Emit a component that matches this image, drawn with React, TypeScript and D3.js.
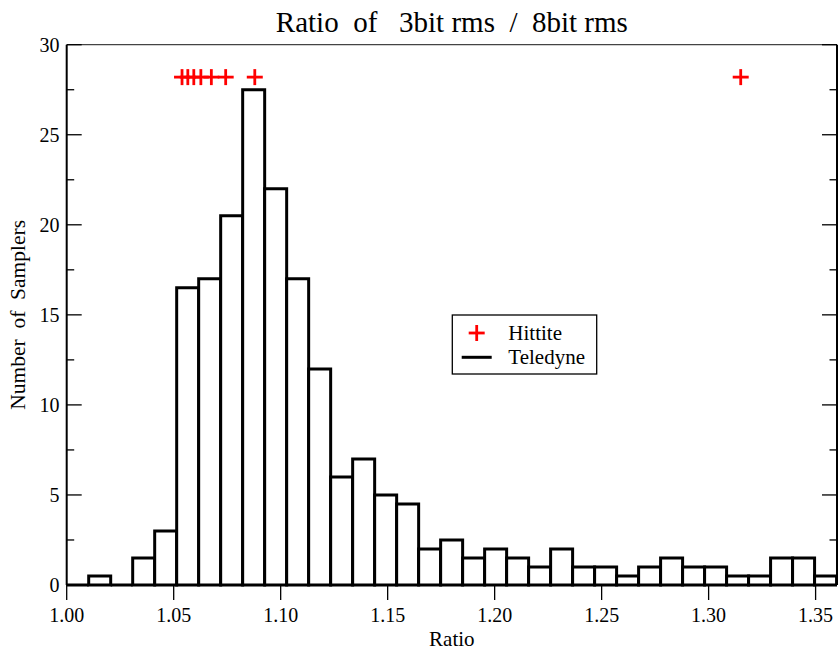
import React from "react";
import * as d3 from "d3";

const binStart = 1.0;
const binWidth = 0.01028;
const teledyneCounts = [
  0, 0.5, 0, 1.5, 3, 16.5, 17, 20.5, 27.5, 22, 17, 12, 6, 7, 5, 4.5, 2, 2.5,
  1.5, 2, 1.5, 1, 2, 1, 1, 0.5, 1, 1.5, 1, 1, 0.5, 0.5, 1.5, 1.5, 0.5,
];
const hittiteX = [1.0539, 1.0566, 1.0594, 1.0627, 1.0676, 1.0743, 1.0879, 1.315];
const hittiteY = 28.2;
const xTicks = [1.0, 1.05, 1.1, 1.15, 1.2, 1.25, 1.3, 1.35];
const yMajor = [0, 5, 10, 15, 20, 25, 30];
const yMinor = [2.5, 7.5, 12.5, 17.5, 22.5, 27.5];

const W = 838;
const H = 654;
const FONT = "'Liberation Serif', 'Times New Roman', serif";

export default function App() {
  const x = d3.scaleLinear().domain([1.0, 1.36]).range([66.7, 837]);
  const y = d3.scaleLinear().domain([0, 30]).range([585, 44.7]);
  const [x0, x1] = x.range();
  const [y0, y1] = y.range();
  const fmt = d3.format(".2f");

  const cross = (cx: number, cy: number, key: string) => (
    <g key={key} stroke="#ff0000" strokeWidth={2.8}>
      <line x1={cx - 8} x2={cx + 8} y1={cy} y2={cy} />
      <line x1={cx} x2={cx} y1={cy - 8} y2={cy + 8} />
    </g>
  );

  return (
    <svg
      width={W}
      height={H}
      style={{ position: "absolute", left: 0, top: 0, background: "#fff" }}
      fontFamily={FONT}
    >
      <defs>
        <clipPath id="plotclip">
          <rect x={x0 - 3} y={y1} width={x1 - x0 + 3} height={y0 - y1 + 3} />
        </clipPath>
      </defs>
      <rect x={0} y={0} width={W} height={H} fill="#fff" />
      <text x={(x0 + x1) / 2} y={31.5} textAnchor="middle" fontSize={29} style={{ whiteSpace: "pre" }}>
        {"Ratio  of   3bit rms  /  8bit rms"}
      </text>

      {/* histogram */}
      <g clipPath="url(#plotclip)">
        {teledyneCounts.map((c, i) => {
          const a = x(binStart + i * binWidth);
          const b = x(binStart + (i + 1) * binWidth);
          const t = y(c);
          return (
            <path
              key={i}
              d={`M${a},${y0}V${t}H${b}V${y0}Z`}
              fill="#fff"
              stroke="#000"
              strokeWidth={3}
              strokeLinejoin="miter"
            />
          );
        })}
      </g>

      {/* frame */}
      <g stroke="#000" strokeWidth={1.5} fill="none">
        <line x1={x0} x2={x1} y1={y0} y2={y0} />
        <line x1={x0} x2={x1} y1={y1} y2={y1} strokeWidth={1.2} stroke="#444" />
        <line x1={x0} x2={x0} y1={y0} y2={y1} strokeWidth={2} />
        <line x1={x1} x2={x1} y1={y0} y2={y1} strokeWidth={2} />
      </g>

      {/* x ticks */}
      <g>
        {xTicks.map((t) => (
          <g key={t}>
            <line x1={x(t)} x2={x(t)} y1={y0} y2={y0 + 15} stroke="#000" strokeWidth={1.3} />
            <text x={x(t)} y={622} textAnchor="middle" fontSize={20}>
              {fmt(t)}
            </text>
          </g>
        ))}
      </g>

      {/* y ticks */}
      <g>
        {yMajor.map((t) => (
          <g key={t}>
            <line x1={x0} x2={x0 + 15} y1={y(t)} y2={y(t)} stroke="#000" strokeWidth={1.3} />
            <line x1={x1} x2={x1 - 15} y1={y(t)} y2={y(t)} stroke="#000" strokeWidth={1.3} />
            <text x={59.5} y={y(t)} dy="0.34em" textAnchor="end" fontSize={20}>
              {t}
            </text>
          </g>
        ))}
        {yMinor.map((t) => (
          <g key={t}>
            <line x1={x0} x2={x0 + 7.5} y1={y(t)} y2={y(t)} stroke="#000" strokeWidth={1.3} />
            <line x1={x1} x2={x1 - 7.5} y1={y(t)} y2={y(t)} stroke="#000" strokeWidth={1.3} />
          </g>
        ))}
      </g>

      {/* axis labels */}
      <text x={(x0 + x1) / 2} y={645.5} textAnchor="middle" fontSize={21}>
        Ratio
      </text>
      <text
        transform={`translate(25,${(y0 + y1) / 2}) rotate(-90)`}
        textAnchor="middle"
        fontSize={21.5}
        style={{ whiteSpace: "pre" }}
      >
        {"Number  of  Samplers"}
      </text>

      {/* Hittite markers */}
      {hittiteX.map((v, i) => cross(x(v), y(hittiteY), "h" + i))}

      {/* legend */}
      <g>
        <rect x={452.3} y={315} width={144.4} height={59} fill="#fff" stroke="#000" strokeWidth={1.3} />
        {cross(476.7, 333, "leg")}
        <text x={508.3} y={339.5} fontSize={21}>
          Hittite
        </text>
        <line x1={461.7} x2={491.7} y1={357.3} y2={357.3} stroke="#000" strokeWidth={3} />
        <text x={508.3} y={363.5} fontSize={21}>
          Teledyne
        </text>
      </g>
    </svg>
  );
}
